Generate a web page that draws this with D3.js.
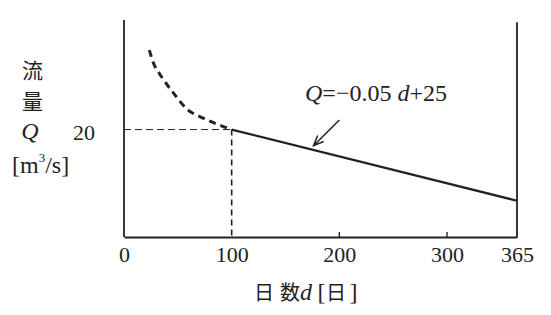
<!DOCTYPE html>
<html><head><meta charset="utf-8">
<script src="https://cdn.jsdelivr.net/npm/d3@7"></script>
<style>
body{margin:0;background:#fff;}
text{fill:#222;}
.sf{font-family:"Liberation Serif","DejaVu Serif",serif;}
.cj{font-family:"Noto Sans CJK JP",sans-serif;}
</style></head>
<body><svg id="c" width="551" height="315"></svg>
<script>
// ---- data ----
const xTicks = [0, 100, 200, 300, 365];
const yTicks = [20];
const curveDays = [23.5, 27, 35, 46, 58, 74, 89, 100];
const curveFlow = [34.8, 32.6, 29.8, 26.8, 23.9, 22.1, 20.8, 20];
const lineDays = [100, 365];
const lineFlow = [20, 6.75];
const guideDay = 100, guideFlow = 20;
const arrowFrom = [200, 21.8], arrowTo = [176, 17.0];

const svg = d3.select("#c");
const x = d3.scaleLinear().domain([0, 365]).range([124, 517]);
const y = d3.scaleLinear().domain([0, 40.4]).range([237, 20]);
const ink = "#222";

// axes frame
svg.append("line").attr("x1", x(0)).attr("x2", x(0)).attr("y1", y(40.4)).attr("y2", y(0))
  .attr("stroke", ink).attr("stroke-width", 1.8);
svg.append("line").attr("x1", x(365)).attr("x2", x(365)).attr("y1", y(40.0)).attr("y2", y(0))
  .attr("stroke", ink).attr("stroke-width", 1.8);
const xAxis = d3.axisBottom(x).tickValues(xTicks).tickSize(0).tickPadding(9).tickFormat(d3.format("d"));
const gx = svg.append("g").attr("transform", `translate(0,${y(0)})`).call(xAxis)
  .attr("font-family", null).attr("font-size", null);
gx.select(".domain").attr("stroke", ink).attr("stroke-width", 1.8);
gx.selectAll("text").attr("class", "sf").style("font-size", "22px").attr("fill", ink);
// inner ticks at 200, 300
svg.selectAll(".itick").data(xTicks.filter(d => d > 100 && d < 365)).enter().append("line")
  .attr("x1", d => x(d)).attr("x2", d => x(d)).attr("y1", y(0)).attr("y2", y(0) - 5)
  .attr("stroke", ink).attr("stroke-width", 1.4);

// y tick label
svg.selectAll(".ylab").data(yTicks).enter().append("text").attr("class", "sf")
  .attr("x", 84).attr("y", d => y(d) + 10).attr("text-anchor", "middle")
  .style("font-size", "22px").text(d => d);

// guides
svg.append("line").attr("x1", x(0)).attr("x2", x(guideDay)).attr("y1", y(guideFlow)).attr("y2", y(guideFlow))
  .attr("stroke", ink).attr("stroke-width", 1).attr("stroke-dasharray", "7,4");
svg.append("line").attr("x1", x(guideDay)).attr("x2", x(guideDay)).attr("y1", y(guideFlow)).attr("y2", y(0))
  .attr("stroke", ink).attr("stroke-width", 1.6).attr("stroke-dasharray", "6,4");

// dashed curve
const curvePts = curveDays.map((d, i) => [d, curveFlow[i]]);
svg.append("path").attr("d", d3.line().x(d => x(d[0])).y(d => y(d[1])).curve(d3.curveMonotoneX)(curvePts))
  .attr("fill", "none").attr("stroke", ink).attr("stroke-width", 3).attr("stroke-dasharray", "7,5");

// solid line
const linePts = lineDays.map((d, i) => [d, lineFlow[i]]);
svg.append("path").attr("d", d3.line().x(d => x(d[0])).y(d => y(d[1]))(linePts))
  .attr("fill", "none").attr("stroke", ink).attr("stroke-width", 2.2);

// arrow
const ax1 = x(arrowFrom[0]), ay1 = y(arrowFrom[1]), ax2 = x(arrowTo[0]), ay2 = y(arrowTo[1]);
const ang = Math.atan2(ay2 - ay1, ax2 - ax1), hl = 11, ha = 0.4;
svg.append("path")
  .attr("d", `M${ax1},${ay1}L${ax2},${ay2}M${ax2 - hl*Math.cos(ang-ha)},${ay2 - hl*Math.sin(ang-ha)}L${ax2},${ay2}L${ax2 - hl*Math.cos(ang+ha)},${ay2 - hl*Math.sin(ang+ha)}`)
  .attr("fill", "none").attr("stroke", ink).attr("stroke-width", 1.5);

// equation
const eq = svg.append("text").attr("class", "sf").attr("x", 305).attr("y", 101).style("font-size", "24px");
eq.append("tspan").attr("font-style", "italic").text("Q");
eq.append("tspan").text("=−0.05 ");
eq.append("tspan").attr("font-style", "italic").text("d");
eq.append("tspan").text("+25");

// y axis title
const yTitle = ["流", "量"];
svg.selectAll(".yt").data(yTitle).enter().append("text").attr("class", "cj")
  .attr("x", 32.5).attr("y", (d, i) => 78 + i * 31).attr("text-anchor", "middle")
  .style("font-size", "21px").text(d => d);
svg.append("text").attr("class", "sf").attr("x", 30).attr("y", 139).attr("text-anchor", "middle")
  .style("font-size", "24px").attr("font-style", "italic").text("Q");
const unit = svg.append("text").attr("class", "sf").attr("x", 12).attr("y", 173)
  .style("font-size", "24px");
unit.append("tspan").text("[m");
unit.append("tspan").attr("dy", -11).style("font-size", "13px").text("3");
unit.append("tspan").attr("dy", 11).text("/s]");

// x axis title
const xt = svg.append("g").attr("transform", "translate(0,300)");
const parts = [
  {t: "日", x: 264, c: "cj", s: 20, i: false},
  {t: "数", x: 290, c: "cj", s: 20, i: false},
  {t: "d", x: 306, c: "sf", s: 24, i: true},
  {t: "[", x: 321.5, c: "sf", s: 24, i: false},
  {t: "日", x: 336, c: "cj", s: 20, i: false},
  {t: "]", x: 353.5, c: "sf", s: 24, i: false}
];
xt.selectAll("text").data(parts).enter().append("text")
  .attr("class", d => d.c).attr("x", d => d.x).attr("text-anchor", "middle")
  .style("font-size", d => d.s + "px").attr("font-style", d => d.i ? "italic" : null).text(d => d.t);
</script></body></html>
